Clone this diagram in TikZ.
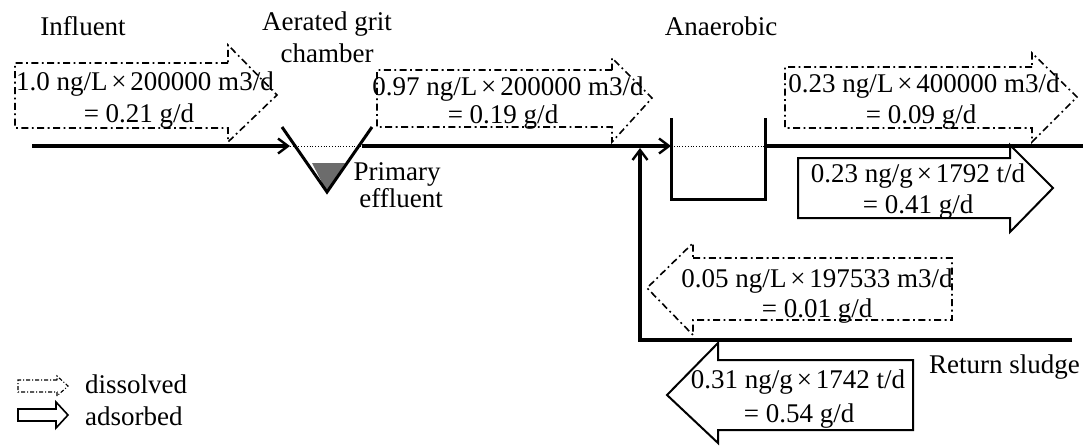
\documentclass[tikz,border=0pt]{standalone}
\usepackage{fontspec}
\setmainfont{Liberation Serif}
\usetikzlibrary{arrows.meta}
\newcommand{\tms}{\hspace{0.14em}×\hspace{0.14em}}
\begin{document}
\begin{tikzpicture}[x=1pt,y=-1pt,
  txt/.style={font=\fontsize{27}{31}\selectfont, inner sep=0pt, anchor=base},
  dd/.style={line width=1.6pt, dash pattern=on 7pt off 3.5pt on 1.8pt off 3.5pt},
  solidarr/.style={draw, fill=white, line width=2pt, line join=miter},
  mainline/.style={line width=3.2pt},
  thin/.style={line width=0.8pt, dotted},
  tank/.style={line width=3pt},
  flow/.style={mainline, -{Straight Barb[length=10pt,width=15pt,line width=2.4pt]}}]
\useasboundingbox (0,0) rectangle (1083,445);
% coordinates of the process line
\coordinate (start) at (32,146);
\coordinate (gritL) at (290,146);
\coordinate (gritR) at (362,146);
\coordinate (anaL) at (671,146);
\coordinate (anaR) at (765,146);
\coordinate (lineend) at (1083,146);
\coordinate (retEnd) at (1072,340);
\coordinate (retCorner) at (640,340);
\coordinate (retTip) at (640,148);
% grit chamber
\fill[gray!85!black] (312,163) -- (345,163) -- (327,192) -- cycle;
\draw[tank] (282,127) -- (327,192) -- (372,127);
% anaerobic tank
\draw[tank] (671,118) -- (671,199) -- (765,199) -- (765,118);
% main line
\draw[flow] (start) -- (gritL);
\draw[thin] (gritL) -- (gritR);
\draw[flow] (gritR) -- (anaL);
\draw[thin] (anaL) -- (anaR);
\draw[mainline] (anaR) -- (lineend);
% return sludge
\draw[flow] (retEnd) -- (retCorner) -- (retTip);
% dissolved arrows (dash-dot)
\draw[dd] (228,63) -- (15,63) -- (15,128) -- (228,128) -- (228,142) -- (277,95) -- (228,45) -- cycle;
\draw[dd] (612,70) -- (377,70) -- (377,127) -- (612,127) -- (612,142) -- (652,98) -- (612,58) -- cycle;
\draw[dd] (1032,67) -- (785,67) -- (785,128) -- (1032,128) -- (1032,142) -- (1077,97) -- (1032,53) -- cycle;
\draw[dd] (693,258) -- (952,258) -- (952,320) -- (693,320) -- (693,335) -- (647,288) -- (693,243) -- cycle;
% adsorbed arrows
\draw[solidarr] (1010,158) -- (798,158) -- (798,218) -- (1010,218) -- (1010,232) -- (1053,188) -- (1010,145) -- cycle;
\draw[solidarr] (718,360) -- (913,360) -- (913,430) -- (718,430) -- (718,443) -- (667,395) -- (718,343) -- cycle;
% texts
\node[txt] (influent) at (83,35) {Influent};
\node[txt] (grit1) at (327,30) {Aerated grit};
\node[txt] (grit2) at (327,62) {chamber};
\node[txt] (prim1) at (397,180) {Primary};
\node[txt] (prim2) at (401,207) {effluent};
\node[txt] (ana) at (721,35) {Anaerobic};
\node[txt, anchor=base west] (ret) at (929,373) {Return sludge};
\node[txt] (a1t) at (145,90) {1.0 ng/L\tms 200000 m3/d};
\node[txt] (a1b) at (139,122) {= 0.21 g/d};
\node[txt] (a2t) at (508,95) {0.97 ng/L\tms 200000 m3/d};
\node[txt] (a2b) at (503,123) {= 0.19 g/d};
\node[txt] (a3t) at (924,92) {0.23 ng/L\tms 400000 m3/d};
\node[txt] (a3b) at (921,123) {= 0.09 g/d};
\node[txt] (a4t) at (918,182) {0.23 ng/g\tms 1792 t/d};
\node[txt] (a4b) at (918,213) {= 0.41 g/d};
\node[txt] (a5t) at (817,287) {0.05 ng/L\tms 197533 m3/d};
\node[txt] (a5b) at (817,317) {= 0.01 g/d};
\node[txt] (a6t) at (798,388) {0.31 ng/g\tms 1742 t/d};
\node[txt] (a6b) at (799,422) {= 0.54 g/d};
% legend
\draw[dd, line width=1.1pt, dash pattern=on 4pt off 2pt on 1pt off 2pt] (57,380) -- (18,380) -- (18,392) -- (57,392) -- (57,396) -- (68,386) -- (57,376) -- cycle;
\draw[solidarr, line width=1.6pt] (56,409) -- (18,409) -- (18,421) -- (56,421) -- (56,428) -- (68,415) -- (56,402) -- cycle;
\node[txt, anchor=base west] (ldis) at (85,393) {dissolved};
\node[txt, anchor=base west] (lads) at (85,425) {adsorbed};
\end{tikzpicture}
\end{document}
